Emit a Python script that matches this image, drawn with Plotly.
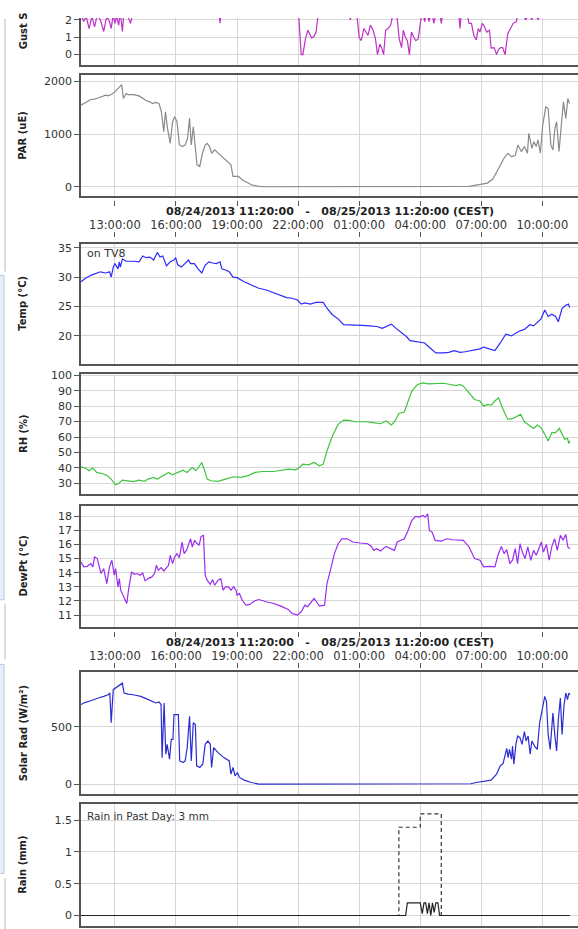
import pandas as pd
import plotly.graph_objects as go

START = pd.Timestamp("2013-08-24 11:20:00")

# ---------------- data (minutes since 08/24/2013 11:20) ----------------
gust_min = [0,8,15,24,32,40,48,57,67,76,84,89,95,100,105,111,116,122,127,138,
            146,152,165,252,404,410,415,524,633,641,649,654,662,669,674,680,687,693,700,709,
            785,794,801,812,820,826,834,839,846,853,861,868,874,881,886,892,898,905,913,919,
            926,933,938,945,950,956,962,968,974,981,987,994,1000,1006,1013,1019,1026,1033,1040,1048,
            1057,1062,1068,1111,1117,1122,1138,1144,1151,1158,1165,1171,1176,1183,1189,1196,1204,1209,1218,1225,
            1231,1237,1243,1250,1258,1265,1274,1283,1290,1312,1318,1329,1334,1348,1353,1440]
gust_val = [2.3,1.9,2.2,1.5,2.2,1.6,2.3,2.0,1.33,2.2,1.9,1.5,2.3,1.8,2.2,1.7,2.4,1.33,2.5,2.2,
            1.8,2.5,3.5,4.0,3.0,1.8,3.0,4.0,3.0,2.5,0,0,0.95,1.4,1.2,0.95,1.05,1.3,2.5,3.5,
            3.0,2.0,3.0,2.5,1.0,0.8,1.5,1.3,1.1,1.7,1.4,0.9,0,0.6,0.4,0,1.4,1.5,1.7,2.3,
            3.0,1.9,0.9,0.4,1.4,1.0,0.8,0,1.3,1.0,0.8,0.9,1.8,2.6,1.9,2.5,1.9,2.6,1.8,2.5,
            2.4,1.8,2.6,3.0,1.5,2.5,2.3,1.8,1.8,1.1,0.85,1.5,1.3,1.8,1.6,1.3,1.4,0.38,0.4,0,
            0.3,0.4,0.4,0,1.2,1.5,1.8,1.9,2.5,2.0,2.5,2.0,2.5,2.0,2.5,3.0]

par_min = [0,8,18,29,40,51,62,73,80,89,100,109,116,120,125,133,138,154,171,182,
           192,203,211,220,230,237,244,249,255,263,270,276,283,290,299,307,314,320,325,331,
           337,342,350,358,366,372,379,385,394,410,426,442,448,457,464,475,486,502,524,546,
           1144,1165,1182,1198,1214,1231,1247,1258,1269,1280,1288,1298,1307,1316,1320,1329,1335,1342,1347,1354,
           1361,1370,1377,1385,1391,1397,1402,1409,1416,1422,1429,1435,1440]
par_val = [1547,1579,1623,1654,1660,1686,1704,1736,1723,1748,1799,1862,1912,1937,1673,1767,1748,1748,1723,1673,
           1635,1610,1579,1598,1579,1421,1044,1421,1107,824,1233,1327,1233,792,761,792,918,1296,792,1138,
           730,415,384,635,792,824,761,635,698,604,509,415,195,195,195,132,88,38,6,0,
           6,25,50,69,145,352,541,635,572,591,792,667,761,635,1013,730,855,761,887,635,
           1170,1516,1484,792,698,1107,1233,667,1264,1610,1296,1673,1579]

temp_min = [0,13,29,46,57,73,84,89,95,100,109,113,116,122,133,154,171,182,192,203,
            214,225,233,241,252,263,274,279,285,296,307,317,323,334,345,356,366,377,388,399,
            410,415,426,437,448,460,481,502,524,546,568,589,606,622,638,649,660,676,693,714,
            725,741,758,774,796,828,850,872,888,899,915,926,942,959,970,992,1013,1030,1046,1068,
            1084,1100,1117,1133,1155,1176,1187,1204,1220,1236,1252,1269,1280,1291,1307,1323,1334,1345,1356,1367,
            1377,1388,1399,1407,1418,1429,1437,1440]
temp_val = [29.2,29.8,30.3,30.6,30.9,30.7,30.9,30.0,31.7,32.3,31.4,32.6,31.7,33.1,32.7,32.7,32.6,33.6,33.3,33.4,
            32.9,34.2,33.4,33.6,31.9,32.6,32.9,33.3,32.1,31.7,32.3,32.9,32.3,32.3,31.4,30.7,32.0,32.6,32.4,32.3,
            32.6,31.4,31.2,30.9,30.0,29.9,29.2,28.6,28.1,27.8,27.3,26.8,26.5,26.4,26.1,25.4,25.6,25.4,25.7,25.7,
            24.7,23.6,22.9,21.9,21.9,21.8,21.7,21.6,21.3,21.6,22.0,21.4,20.7,19.9,19.2,19.0,18.8,17.9,17.1,17.1,
            17.2,17.5,17.2,17.3,17.5,17.8,18.1,17.8,17.5,18.8,20.3,20.0,20.4,20.8,21.1,21.9,21.7,22.3,22.9,24.4,
            23.3,23.7,23.3,22.4,24.7,25.2,25.4,24.8]

rh_min = [0,13,24,35,46,62,78,89,102,111,122,138,154,171,187,198,214,225,241,258,
          269,285,301,312,328,339,350,356,363,372,383,404,426,448,470,491,513,535,568,589,
          611,633,644,654,671,687,703,714,725,741,758,774,790,807,839,861,883,899,915,926,
          937,953,964,975,992,1008,1024,1046,1068,1089,1106,1117,1127,1144,1160,1176,1187,1198,1209,1220,
          1231,1242,1258,1274,1285,1296,1307,1323,1334,1345,1356,1367,1377,1388,1399,1410,1418,1426,1434,1438,
          1441]
rh_val = [40.7,39.9,38.2,39.9,37.1,36.4,34.9,32.8,29.1,30.0,32.1,31.7,31.1,32.1,31.3,32.8,33.9,32.8,34.9,37.1,
          35.6,37.1,38.6,37.1,40.3,38.2,41.4,43.5,39.2,32.8,31.7,31.3,32.8,34.3,33.9,34.9,37.1,37.7,37.7,38.6,
          39.2,38.8,40.3,42.5,42.0,43.5,41.4,42.5,51.0,60.7,68.2,71.0,70.8,69.9,69.9,69.3,68.6,70.4,67.8,70.4,
          75.3,76.2,83.3,89.7,94.0,95.1,94.4,94.8,94.8,94.0,93.3,94.0,92.9,88.6,84.3,83.3,80.0,81.1,80.7,83.3,
          85.4,79.0,71.4,72.1,73.6,74.7,69.9,67.1,65.6,67.8,66.1,61.8,57.5,62.9,62.9,65.6,61.8,58.6,59.2,55.8,
          57.5]

dew_min = [0,8,18,29,35,40,48,54,59,67,76,84,91,98,102,109,113,117,127,135,
           140,149,157,165,174,182,189,198,209,217,222,228,236,244,250,258,263,270,276,283,
           290,298,304,312,317,323,328,335,341,348,354,361,366,372,381,388,394,404,412,419,
           426,435,442,450,457,460,467,475,486,497,513,524,546,568,589,611,622,638,649,660,
           668,676,687,696,703,718,725,734,747,758,769,785,801,823,845,856,863,872,883,899,
           913,924,932,943,953,964,975,986,997,1008,1015,1022,1027,1035,1044,1062,1078,1095,1111,1127,
           1144,1160,1176,1187,1204,1220,1229,1239,1247,1255,1264,1272,1280,1287,1294,1301,1309,1317,1326,1334,
           1342,1350,1357,1363,1372,1380,1388,1396,1404,1413,1421,1429,1435,1441]
dew_val = [14.76,14.41,14.45,14.64,14.41,15.11,15.0,14.52,13.94,14.29,13.23,14.41,14.88,13.82,14.29,13.0,13.58,12.76,12.29,11.82,
           12.76,14.05,13.89,13.94,13.82,13.98,13.42,13.58,13.70,13.94,14.52,14.17,14.36,14.12,14.29,14.52,15.23,14.64,15.11,15.35,
           15.06,16.17,15.35,15.63,16.0,16.40,15.82,16.29,16.10,15.93,16.57,16.64,13.82,13.47,13.18,13.51,13.11,13.47,13.58,12.76,
           13.0,13.0,12.76,13.0,12.76,12.41,12.53,12.06,11.70,11.75,12.01,12.10,11.94,11.82,11.63,11.40,11.12,11.0,11.23,11.70,
           11.59,11.82,12.17,11.87,11.63,11.70,13.23,14.05,15.35,16.05,16.40,16.40,16.17,16.10,16.05,15.86,15.58,15.70,15.53,15.86,
           15.70,15.58,16.17,16.29,16.40,16.99,17.69,17.98,17.93,18.05,17.93,18.16,16.99,16.87,16.29,16.24,16.40,16.33,16.29,16.29,
           15.82,15.0,14.88,14.41,14.45,14.41,15.23,15.86,15.35,15.63,14.64,14.88,15.70,14.64,16.05,15.46,15.0,15.82,14.88,15.58,
           15.23,15.70,16.17,15.46,16.0,14.88,15.86,16.40,15.58,16.64,16.29,16.71,15.82,15.70]

sol_min = [0,8,18,35,51,67,80,85,89,95,105,116,122,127,138,154,165,176,192,209,
           220,230,236,239,245,250,254,261,266,271,274,283,287,291,301,307,313,320,325,331,
           337,341,350,359,366,374,381,385,391,404,421,437,442,448,454,461,467,481,502,524,
           1149,1165,1187,1209,1225,1236,1244,1250,1255,1259,1263,1269,1272,1276,1282,1287,1294,1300,1307,1312,
           1318,1324,1329,1337,1345,1352,1359,1367,1372,1377,1383,1391,1397,1402,1407,1413,1418,1424,1429,1434,
           1438,1441]
sol_val = [694,708,717,737,751,766,780,795,535,824,844,867,881,795,786,780,775,766,746,722,
           708,717,694,231,708,260,347,217,390,390,607,607,607,202,188,202,318,592,202,535,
           520,159,145,173,347,376,347,145,318,275,231,202,87,145,72,101,58,35,14,0,
           3,14,23,35,87,159,179,246,312,231,303,217,332,173,347,419,405,347,457,376,
           419,260,376,332,303,535,650,766,722,434,303,621,419,289,564,751,434,694,795,737,
           795,780]

rain_min = [0,957,962,1000,1006,1011,1016,1021,1026,1031,1036,1041,1046,1052,1057,1062,1441]
rain_val = [0,0,0.2,0.2,0.03,0.2,0.2,0.03,0.2,0.0,0.2,0.05,0.2,0.2,0.0,0,0]
rate_min = [0,937,1000,1062,1441]
rate_val = [0,1.39,1.6,0,0]

tick_times = ["2013-08-24 13:00", "2013-08-24 16:00", "2013-08-24 19:00", "2013-08-24 22:00",
              "2013-08-25 01:00", "2013-08-25 04:00", "2013-08-25 07:00", "2013-08-25 10:00"]
tick_labels = ["13:00:00", "16:00:00", "19:00:00", "22:00:00",
               "01:00:00", "04:00:00", "07:00:00", "10:00:00"]
range_title = "08/24/2013 11:20:00\u00a0\u00a0 - \u00a0\u00a008/25/2013 11:20:00 (CEST)"

# ---------------- layout helpers ----------------
W, H = 578, 929
X_LEFT = 81
XR = [START, START + pd.Timedelta(minutes=1465)]
FRAME = "#555555"
GRID = "#d6d6d6"
FONT = "DejaVu Sans"


def tx(mins):
    return [START + pd.Timedelta(minutes=m) for m in mins]


def yf(px):
    return 1 - px / H


def xf(px):
    return px / W


panels = [
    dict(title="Gust S", top=13, bot=60.5, yr=[-0.61, 2.11], tv=[0, 1, 2], tt=None,
         series=[(gust_min, gust_val, "#bf30c6", None, None)]),
    dict(title="PAR (uE)", top=70.7, bot=192, yr=[-175, 2113], tv=[0, 1000, 2000], tt=None,
         series=[(par_min, par_val, "#8a8a8a", None, None)]),
    dict(title="Temp (°C)", top=240, bot=360.7, yr=[15.26, 35.68], tv=[20, 25, 30, 35], tt=None,
         series=[(temp_min, temp_val, "#2b2bff", None, None)]),
    dict(title="RH (%)", top=371, bot=491.7, yr=[23.1, 100.8], tv=list(range(30, 101, 10)), tt=None,
         series=[(rh_min, rh_val, "#3fc43f", None, None)]),
    dict(title="DewPt (°C)", top=504, bot=625, yr=[10.18, 18.7], tv=list(range(11, 19)), tt=None,
         series=[(dew_min, dew_val, "#9a2ef0", None, None)]),
    dict(title="Solar Rad (W/m²)", top=671, bot=793.3, yr=[-86.8, 975], tv=[0, 500], tt=None,
         series=[(sol_min, sol_val, "#2c2cd2", None, None)]),
    dict(title="Rain (mm)", top=803.5, bot=925.5, yr=[-0.158, 1.753], tv=[0, 0.5, 1, 1.5],
         tt=["0", "0.5", "1", "1.5"],
         series=[(rate_min, rate_val, "#333333", "4px,3px", "hv"),
                 (rain_min, rain_val, "#222222", None, None)]),
]

fig = go.Figure()
layout = dict(width=W, height=H, margin=dict(l=0, r=0, t=0, b=0),
              paper_bgcolor="white", plot_bgcolor="white", showlegend=False,
              font=dict(family=FONT, size=11, color="#333333"))
annotations = []

for i, p in enumerate(panels, start=1):
    sx = "" if i == 1 else str(i)
    layout["xaxis" + sx] = dict(
        domain=[xf(X_LEFT), 1], anchor="y" + sx, range=XR, type="date",
        tickvals=tick_times, showticklabels=False, ticks="",
        showgrid=True, gridcolor=GRID, gridwidth=1,
        showline=True, linecolor=FRAME, linewidth=1.5, mirror=(i != 1), zeroline=False)
    ya = dict(
        domain=[yf(p["bot"]), yf(p["top"])], anchor="x" + sx, range=p["yr"],
        tickvals=p["tv"], ticks="outside", ticklen=5, tickcolor=FRAME, tickwidth=1,
        showgrid=True, gridcolor=GRID, gridwidth=1,
        showline=True, linecolor=FRAME, linewidth=1.5, mirror=False, zeroline=False,
        tickfont=dict(family=FONT, size=11, color="#333333"))
    if p["tt"]:
        ya["ticktext"] = p["tt"]
    layout["yaxis" + sx] = ya
    for (tm, vals, col, dash, shape) in p["series"]:
        line = dict(color=col, width=1.2)
        if dash:
            line["dash"] = dash
        if shape:
            line["shape"] = shape
        fig.add_trace(go.Scatter(x=tx(tm), y=vals, mode="lines", line=line,
                                 xaxis="x" + sx, yaxis="y" + sx, hoverinfo="skip"))
    cy = (p["top"] + p["bot"]) / 2
    if i == 1:
        annotations.append(dict(text="<b>" + p["title"] + "</b>", x=xf(23), y=yf(47),
                                xref="paper", yref="paper", xanchor="center", yanchor="bottom",
                                textangle=-90, showarrow=False,
                                font=dict(family=FONT, size=10, color="#222222")))
    else:
        annotations.append(dict(text="<b>" + p["title"] + "</b>", x=xf(23), y=yf(cy),
                                xref="paper", yref="paper", xanchor="center", yanchor="middle",
                                textangle=-90, showarrow=False,
                                font=dict(family=FONT, size=10, color="#222222")))

# time-scale bands (detached ticks, title, labels)
bands = [(197.5, 233.5, 208), (630.5, 666.5, 641)]
for j, (btop, bbot, ty) in enumerate(bands):
    k = str(8 + j)
    layout["xaxis" + k] = dict(
        domain=[xf(X_LEFT), 1], anchor="y" + k, range=XR, type="date",
        tickvals=tick_times, ticktext=tick_labels, ticks="inside", ticklen=5,
        tickcolor="#555555", tickwidth=1, mirror="ticks", showline=False,
        showgrid=False, zeroline=False, ticklabelposition="inside",
        tickfont=dict(family=FONT, size=11.5, color="#333333"))
    layout["yaxis" + k] = dict(domain=[yf(bbot), yf(btop)], anchor="x" + k,
                               range=[0, 1], visible=False, fixedrange=True)
    fig.add_trace(go.Scatter(x=[START], y=[None], mode="lines", xaxis="x" + k, yaxis="y" + k,
                             hoverinfo="skip"))
    annotations.append(dict(text="<b>" + range_title + "</b>", x=xf(330), y=yf(ty),
                            xref="paper", yref="paper", xanchor="center", yanchor="middle",
                            showarrow=False, font=dict(family=FONT, size=11, color="#222222")))

annotations.append(dict(text="on TV8", x=xf(85), y=yf(250), xref="paper", yref="paper",
                        xanchor="left", yanchor="middle", showarrow=False,
                        font=dict(family=FONT, size=11, color="#333333")))
annotations.append(dict(text="Rain in Past Day: 3 mm", x=xf(85), y=yf(815), xref="paper",
                        yref="paper", xanchor="left", yanchor="middle", showarrow=False,
                        font=dict(family=FONT, size=10.5, color="#333333")))
layout["annotations"] = annotations

# page decorations at the left edge
shapes = []
for (y0, y1) in [(14, 268), (602, 658), (878, 929)]:
    shapes.append(dict(type="line", xref="paper", yref="paper", x0=xf(5), x1=xf(5),
                       y0=yf(y0), y1=yf(y1), line=dict(color="#d0d0d0", width=1.5)))
for (y0, y1) in [(272, 598), (663, 873)]:
    shapes.append(dict(type="rect", xref="paper", yref="paper", x0=xf(-4), x1=xf(4),
                       y0=yf(y0), y1=yf(y1), fillcolor="#e8effa",
                       line=dict(color="#b6c8e3", width=1)))
layout["shapes"] = shapes

fig.update_layout(**layout)
fig.write_html("out.html", config={"displayModeBar": False},
               post_script="document.body.style.margin='0';document.body.style.overflow='hidden';")
